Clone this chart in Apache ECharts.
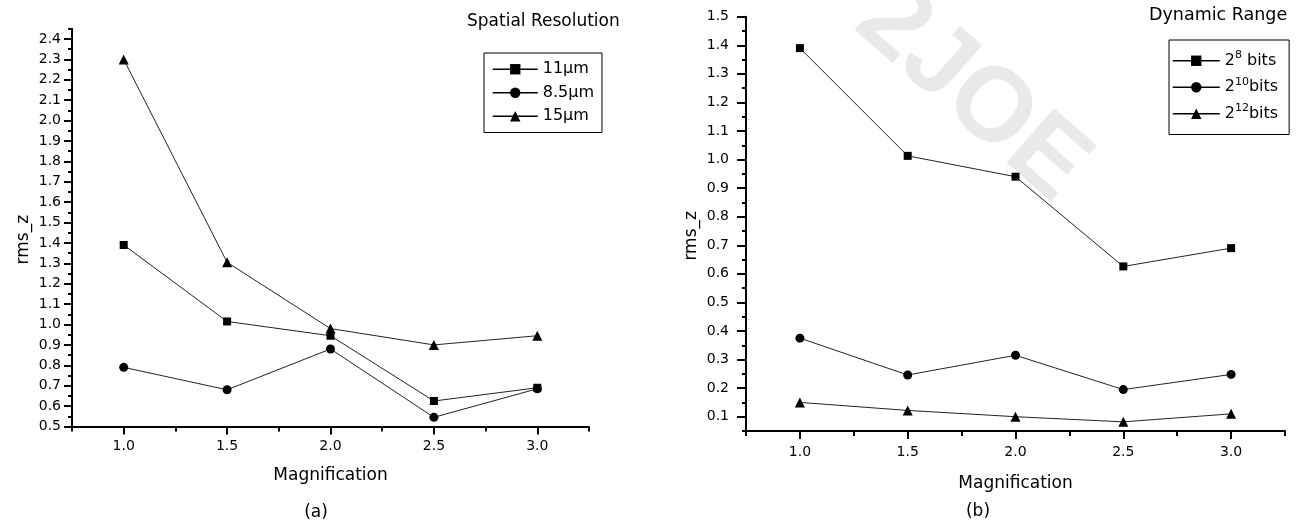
<!DOCTYPE html>
<html><head><meta charset="utf-8">
<script src="https://cdn.jsdelivr.net/npm/echarts@6/dist/echarts.min.js"></script>
<style>html,body{margin:0;padding:0;background:#fff}#c{width:1297px;height:525px}</style>
</head><body><div id="c"></div>
<script>
// ---- data ----
const magnification = [1.0, 1.5, 2.0, 2.5, 3.0];
// (a) Spatial Resolution
const res11 = [1.39, 1.015, 0.945, 0.625, 0.69];
const res85 = [0.79, 0.68, 0.88, 0.545, 0.685];
const res15 = [2.30, 1.305, 0.98, 0.90, 0.945];
// (b) Dynamic Range
const bits8 = [1.39, 1.013, 0.94, 0.626, 0.69];
const bits10 = [0.375, 0.246, 0.315, 0.195, 0.248];
const bits12 = [0.15, 0.122, 0.10, 0.082, 0.11];
// tick labels
const xTicks = [1.0, 1.5, 2.0, 2.5, 3.0];
const leftYTicks = [0.5,0.6,0.7,0.8,0.9,1.0,1.1,1.2,1.3,1.4,1.5,1.6,1.7,1.8,1.9,2.0,2.1,2.2,2.3,2.4];
const rightYTicks = [0.1,0.2,0.3,0.4,0.5,0.6,0.7,0.8,0.9,1.0,1.1,1.2,1.3,1.4,1.5];
const leftNames = ['11\u03bcm', '8.5\u03bcm', '15\u03bcm'];
const rightNames = ['2^8 bits', '2^10bits', '2^12bits'];
const rightRich = {'2^8 bits': '2{sup|8} bits', '2^10bits': '2{sup|10}bits', '2^12bits': '2{sup|12}bits'};

const FONT = 'DejaVu Sans';
const BLACK = '#000';

function pts(ys) { return magnification.map((m, i) => [m, ys[i]]); }

function mainX(g, margin, gap) {
  return {
    type: 'value', gridIndex: g, min: 0.75, max: 3.25, interval: 0.25, position: 'bottom',
    axisLine: {onZero: false, lineStyle: {color: BLACK, width: 2}},
    axisTick: {customValues: xTicks, length: 8, lineStyle: {color: BLACK, width: 2}},
    axisLabel: {customValues: xTicks, formatter: v => v.toFixed(1), margin: margin, color: BLACK, fontFamily: FONT, fontSize: 14},
    splitLine: {show: false},
    name: 'Magnification', nameLocation: 'middle', nameGap: gap,
    nameTextStyle: {color: BLACK, fontFamily: FONT, fontSize: 17}
  };
}
function minorX(g) {
  return {
    type: 'value', gridIndex: g, min: 0.75, max: 3.25, interval: 0.25, position: 'bottom',
    axisLine: {show: false, onZero: false},
    axisTick: {length: 5, lineStyle: {color: BLACK, width: 2}},
    axisLabel: {show: false}, splitLine: {show: false}
  };
}
function mainY(g, min, max, ticks, margin, tickLen, gap) {
  return {
    type: 'value', gridIndex: g, min: min, max: max, interval: 0.05, position: 'left',
    axisLine: {onZero: false, lineStyle: {color: BLACK, width: 2}},
    axisTick: {customValues: ticks, length: tickLen, lineStyle: {color: BLACK, width: 2}},
    axisLabel: {customValues: ticks, formatter: v => v.toFixed(1), margin: margin, color: BLACK, fontFamily: FONT, fontSize: 14},
    splitLine: {show: false},
    name: 'rms_z', nameLocation: 'middle', nameGap: gap, nameRotate: 90,
    nameTextStyle: {color: BLACK, fontFamily: FONT, fontSize: 17, padding: [0, 24, 0, 0]}
  };
}
function minorY(g, min, max) {
  return {
    type: 'value', gridIndex: g, min: min, max: max, interval: 0.05, position: 'left',
    axisLine: {show: false, onZero: false},
    axisTick: {length: 4, lineStyle: {color: BLACK, width: 2}},
    axisLabel: {show: false}, splitLine: {show: false}
  };
}
function line(name, data, sym, size, xi, yi) {
  return {
    type: 'line', name: name, data: pts(data), xAxisIndex: xi, yAxisIndex: yi,
    symbol: sym, symbolSize: size, showAllSymbol: true,
    itemStyle: {color: BLACK}, lineStyle: {color: '#222', width: 1},
    emphasis: {disabled: true}, z: 3
  };
}

const chart = echarts.init(document.getElementById('c'), null, {renderer: 'canvas'});
chart.setOption({
  animation: false,
  backgroundColor: '#fff',
  title: [
    {text: 'Spatial Resolution', left: 467, top: 13, padding: 0,
     textStyle: {fontFamily: FONT, fontSize: 17, fontWeight: 'normal', color: BLACK}},
    {text: 'Dynamic Range', left: 1149, top: 6, padding: 0,
     textStyle: {fontFamily: FONT, fontSize: 17.5, fontWeight: 'normal', color: BLACK}}
  ],
  grid: [
    {left: 72, top: 28.8, width: 517, height: 397.7, outerBoundsMode: 'none'},
    {left: 746, top: 16.7, width: 539, height: 414.3, outerBoundsMode: 'none'}
  ],
  xAxis: [mainX(0, 13, 41), minorX(0), mainX(1, 14, 44), minorX(1)],
  yAxis: [
    mainY(0, 0.5, 2.45, leftYTicks, 11, 8, 40), minorY(0, 0.5, 2.45),
    mainY(1, 0.05, 1.5, rightYTicks, 17, 9, 46), minorY(1, 0.05, 1.5)
  ],
  legend: [
    {data: leftNames, orient: 'vertical', left: 484, top: 53, padding: [7, 8, 7, 8],
     itemGap: 5, itemWidth: 45, itemHeight: 13, selectedMode: false,
     borderColor: BLACK, borderWidth: 1, borderRadius: 0,
     lineStyle: {width: 1.5, color: BLACK},
     textStyle: {fontFamily: FONT, fontSize: 16, color: BLACK, lineHeight: 18.5}},
    {data: rightNames, orient: 'vertical', left: 1169, top: 40, padding: [10, 11, 10, 3],
     itemGap: 5, itemWidth: 47, itemHeight: 13, selectedMode: false,
     borderColor: BLACK, borderWidth: 1, borderRadius: 0,
     lineStyle: {width: 1.5, color: BLACK},
     formatter: n => rightRich[n],
     textStyle: {fontFamily: FONT, fontSize: 16, color: BLACK, lineHeight: 21.5,
       rich: {sup: {fontFamily: FONT, fontSize: 11, color: BLACK, verticalAlign: 'top', lineHeight: 12}}}}
  ],
  graphic: [
    {type: 'text', z: 0, silent: true,
     x: 972, y: 94, rotation: -0.72,
     style: {text: '2JOE', align: 'center', verticalAlign: 'middle',
       font: 'bold 105px "Liberation Sans"', fill: '#e9e9e9'}},
    {type: 'text', silent: true, x: 316, y: 513,
     style: {text: '(a)', align: 'center', verticalAlign: 'middle', font: '17px "DejaVu Sans"', fill: BLACK}},
    {type: 'text', silent: true, x: 978, y: 512,
     style: {text: '(b)', align: 'center', verticalAlign: 'middle', font: '17px "DejaVu Sans"', fill: BLACK}}
  ],
  series: [
    line(leftNames[0], res11, 'rect', 8, 0, 0),
    line(leftNames[1], res85, 'circle', 9, 0, 0),
    line(leftNames[2], res15, 'triangle', 10, 0, 0),
    line(rightNames[0], bits8, 'rect', 8, 2, 2),
    line(rightNames[1], bits10, 'circle', 9, 2, 2),
    line(rightNames[2], bits12, 'triangle', 10, 2, 2)
  ]
});
</script></body></html>
